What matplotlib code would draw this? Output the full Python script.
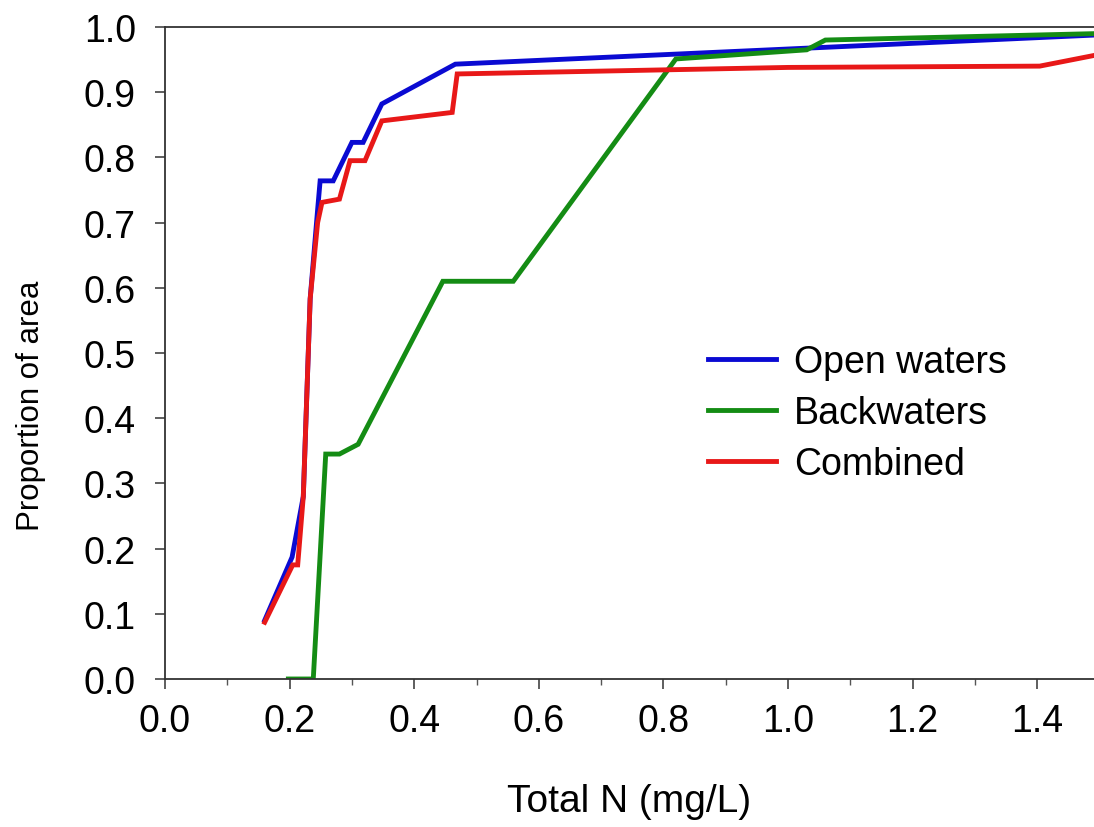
import matplotlib
matplotlib.use("Agg")
import matplotlib.pyplot as plt
from matplotlib.ticker import MultipleLocator

plt.rcParams['font.family'] = ['Liberation Sans', 'DejaVu Sans']

# Cumulative proportion of area vs total N (mg/L)
open_x = [0.16, 0.204, 0.222, 0.233, 0.245, 0.249, 0.27, 0.30, 0.318, 0.348, 0.466, 1.50]
open_y = [0.09, 0.187, 0.28, 0.583, 0.72, 0.764, 0.764, 0.823, 0.823, 0.882, 0.943, 0.988]

back_x = [0.198, 0.238, 0.258, 0.28, 0.31, 0.446, 0.559, 0.82, 1.03, 1.06, 1.50]
back_y = [0.0, 0.0, 0.345, 0.345, 0.36, 0.61, 0.61, 0.951, 0.965, 0.98, 0.99]

comb_x = [0.16, 0.205, 0.213, 0.222, 0.233, 0.245, 0.252, 0.28, 0.297, 0.321, 0.348, 0.461, 0.469, 1.0, 1.404, 1.50]
comb_y = [0.087, 0.175, 0.175, 0.28, 0.583, 0.70, 0.731, 0.736, 0.795, 0.795, 0.856, 0.869, 0.928, 0.938, 0.94, 0.958]

labels = ['Open waters', 'Backwaters', 'Combined']
colors = ['#0a0ad2', '#148c14', '#e81818']

fig = plt.figure(figsize=(10.94, 8.28), dpi=100)
ax = fig.add_axes([165 / 1094, 1 - 680 / 828, (1094 - 165) / 1094, 652 / 828])

ax.plot(open_x, open_y, color=colors[0], lw=3.5, label=labels[0], solid_joinstyle='miter')
ax.plot(back_x, back_y, color=colors[1], lw=3.5, label=labels[1], solid_joinstyle='miter')
ax.plot(comb_x, comb_y, color=colors[2], lw=3.5, label=labels[2], solid_joinstyle='miter')

ax.set_xlim(0, (1094 - 165) / 623)
ax.set_ylim(0, 1.0)
ax.xaxis.set_major_locator(MultipleLocator(0.2))
ax.xaxis.set_minor_locator(MultipleLocator(0.1))
ax.yaxis.set_major_locator(MultipleLocator(0.1))
ax.xaxis.set_major_formatter(matplotlib.ticker.FormatStrFormatter('%.1f'))
ax.yaxis.set_major_formatter(matplotlib.ticker.FormatStrFormatter('%.1f'))

for s in ['left', 'bottom', 'top']:
    ax.spines[s].set_color('#333333')
    ax.spines[s].set_linewidth(1.3)
ax.spines['right'].set_visible(False)

ax.tick_params(axis='both', which='major', direction='out', length=7, width=1.1,
               color='#333333', labelsize=27)
ax.tick_params(axis='x', which='minor', direction='out', length=4, width=1.0, color='#555555')
ax.tick_params(axis='x', which='major', pad=10)
ax.tick_params(axis='y', which='major', pad=14)

ax.set_xlabel('Total N (mg/L)', fontsize=28)
ax.xaxis.set_label_coords(0.5, -0.16)
ax.set_ylabel('Proportion of area', fontsize=22.5)
ax.yaxis.set_label_coords(-0.128, 0.42)

ax.legend(loc='center left', bbox_to_anchor=(708 / 1094, 1 - 414 / 828),
          bbox_transform=fig.transFigure, frameon=False, fontsize=27,
          borderpad=0, borderaxespad=0, handlelength=1.8, handletextpad=0.5,
          labelspacing=0.4)

fig.savefig('out.png', dpi=100)
